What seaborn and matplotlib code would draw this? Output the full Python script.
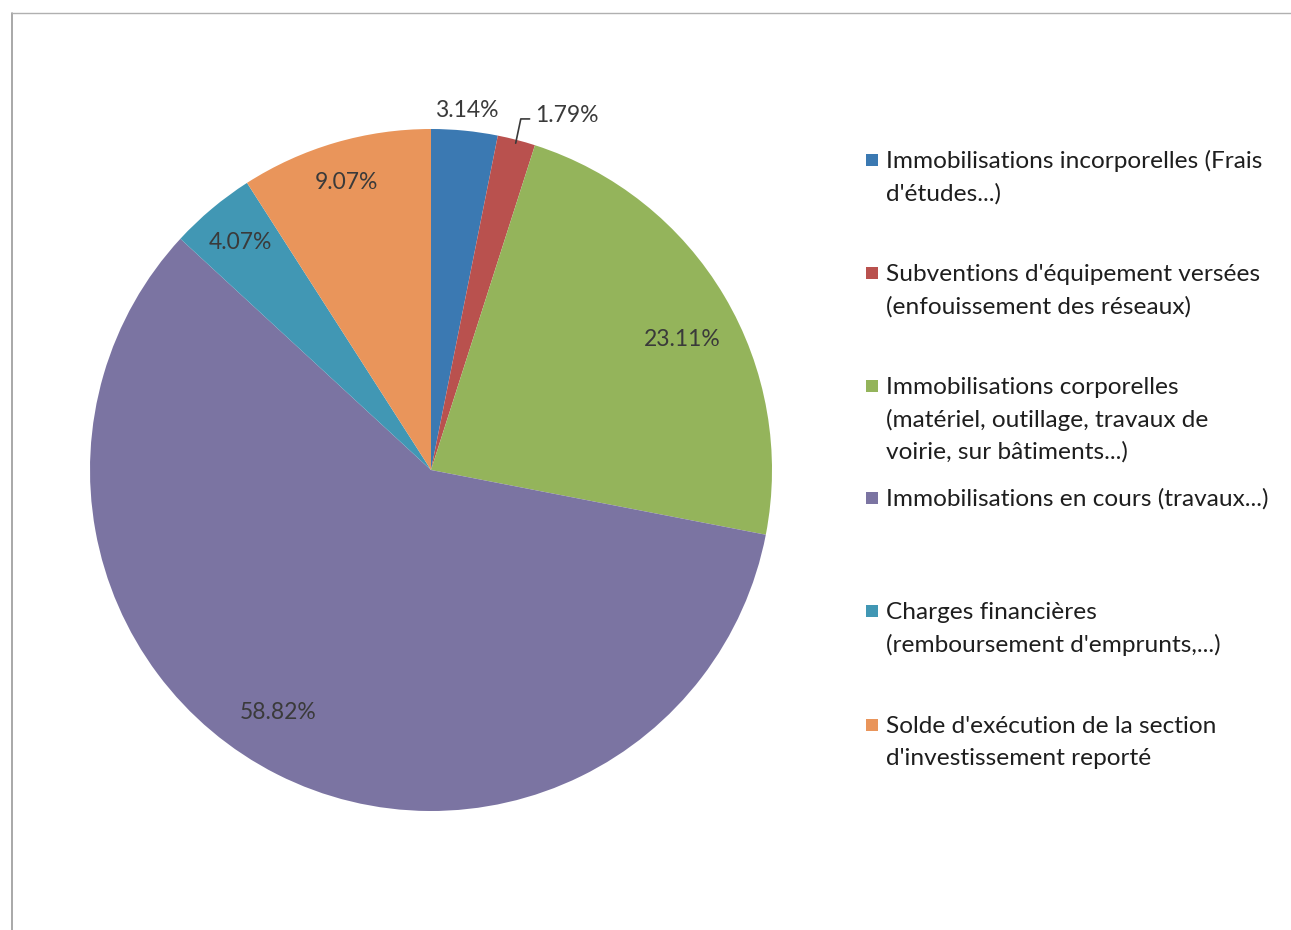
import matplotlib
matplotlib.use("Agg")
import matplotlib.pyplot as plt
from matplotlib.patches import Rectangle
import seaborn as sns
import numpy as np

# ---- data ----
categories = [
    "Immobilisations incorporelles (Frais\nd'études...)",
    "Subventions d'équipement versées\n(enfouissement des réseaux)",
    "Immobilisations corporelles\n(matériel, outillage, travaux de\nvoirie, sur bâtiments...)",
    "Immobilisations en cours (travaux...)",
    "Charges financières\n(remboursement d'emprunts,...)",
    "Solde d'exécution de la section\nd'investissement reporté",
]
values = [3.14, 1.79, 23.11, 58.82, 4.07, 9.07]
colors = ["#3b79b2", "#b9514e", "#94b45b", "#7b74a2", "#4197b4", "#e9955b"]

sns.set_theme(style="white")
plt.rcParams["font.family"] = ["Lato", "DejaVu Sans"]

W, H = 1291, 930
fig = plt.figure(figsize=(W / 100, H / 100), dpi=100)
fig.patch.set_facecolor("white")

# chart border (left and top visible in the scan)
fig.add_artist(plt.Line2D([12 / W, 12 / W], [0, 1 - 13 / H], color="#9a9a9a", lw=1.2,
                          transform=fig.transFigure))
fig.add_artist(plt.Line2D([12 / W, 1], [1 - 13 / H, 1 - 13 / H], color="#b0b0b0", lw=1.0,
                          transform=fig.transFigure))

# pie axes
cx, cy, r = 431, 470, 341
ax = fig.add_axes([(cx - r) / W, 1 - (cy + r) / H, 2 * r / W, 2 * r / H])
palette = sns.color_palette(colors)
wedges, texts, autotexts = ax.pie(
    values, colors=palette, startangle=90, counterclock=False,
    autopct="%1.2f%%", pctdistance=0.85, radius=1.0,
    wedgeprops=dict(linewidth=0),
    textprops=dict(color="#3a3a3a", fontsize=16.5),
)
ax.set_xlim(-1, 1)
ax.set_ylim(-1, 1)
ax.set_aspect("equal")
ax.axis("off")

# label positions (radius, angle offset in degrees) per slice
label_r = [1.06, 1.11, 0.83, 0.84, 0.87, 0.88]
label_dang = [0, -6, -3.3, -5.5, 0, 0]
for w, t, rr, da in zip(wedges, autotexts, label_r, label_dang):
    ang = np.deg2rad((w.theta1 + w.theta2) / 2 + da)
    t.set_position((rr * np.cos(ang), rr * np.sin(ang)))
    t.set_ha("center")
    t.set_va("center")
    t.set_clip_on(False)

# leader line for the small red slice
w = wedges[1]
ang = np.deg2rad((w.theta1 + w.theta2) / 2)
x0, y0 = 0.99 * np.cos(ang), 0.99 * np.sin(ang)
lx, ly = autotexts[1].get_position()
ax.plot([x0, x0 + 0.015, lx - 0.1], [y0, ly - 0.01, ly - 0.01], color="#3a3a3a", lw=1.2,
        clip_on=False)
autotexts[1].set_position((lx + 0.01, ly))

# legend drawn manually to match spacing
lax = fig.add_axes([0, 0, 1, 1])
lax.set_xlim(0, W)
lax.set_ylim(H, 0)
lax.axis("off")
entry_y = [160, 273, 386, 498, 611, 725]
for lab, col, y in zip(categories, colors, entry_y):
    lax.add_patch(Rectangle((866, y - 6), 12, 12, facecolor=col, edgecolor="none"))
    for i, line in enumerate(lab.split("\n")):
        lax.text(886, y + 1 + i * 32.5, line, fontsize=17.6, color="#1e1e1e",
                 ha="left", va="center")

fig.savefig("out.png", dpi=100, facecolor="white")
